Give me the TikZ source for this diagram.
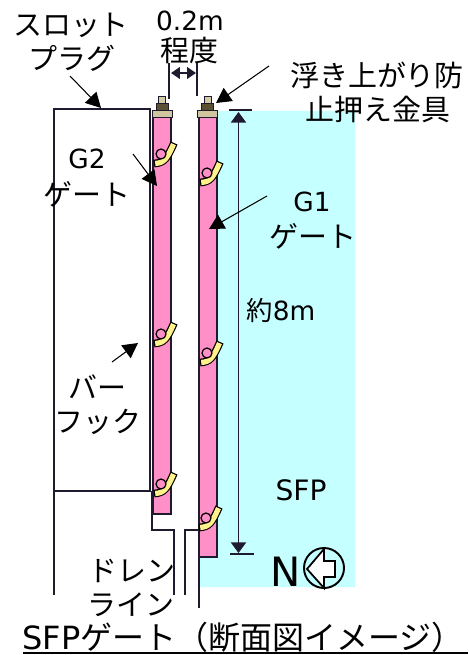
\documentclass[tikz,border=0pt]{standalone}
\usepackage{fontspec}
\usepackage{xcolor}
\usetikzlibrary{arrows.meta}
\usetikzlibrary{positioning}
\setmainfont{DejaVu Sans}
\newfontfamily\jpfont{Noto Sans CJK JP}
\definecolor{poolcyan}{HTML}{C6FFFF}
\definecolor{gatepink}{HTML}{FF8FC7}
\definecolor{hookyellow}{HTML}{FFF28A}
\definecolor{captan}{HTML}{CFC6A0}
\definecolor{nutdark}{HTML}{5A5132}
\definecolor{boltlight}{HTML}{D2CCA6}
\definecolor{linedark}{HTML}{1F1A2E}
\tikzset{
	jplabel/.style={inner sep=0pt, font=\fontsize{16.5}{18}\selectfont\jpfont},
	latinlabel/.style={inner sep=0pt, font=\fontsize{15}{18}\selectfont},
	gate/.style={draw=linedark, fill=gatepink, line width=0.9pt},
	wall/.style={draw=linedark, line width=0.75pt},
	pointer/.style={draw=black, line width=0.6pt, -{Triangle[length=8.5pt, width=9pt]}},
	hookouter/.style={draw=black, line width=4.4pt},
	hookinner/.style={draw=hookyellow, line width=3pt, shorten <=0.7pt, shorten >=0.7pt},
}
\begin{document}
\begin{tikzpicture}[x=0.02cm, y=-0.02cm]
	\useasboundingbox (0,0) rectangle (468,655);

	% pool
	\fill[poolcyan] (218,111) -- (355,111) -- (355,587) -- (199,587) -- (199,557) -- (218,557) -- cycle;

	% slot plug and drain
	\draw[wall] (54,595) -- (54,109) -- (150,109) -- (150,491) -- (54,491);
	\draw[wall] (152,491) -- (152,530) -- (174,530) -- (174,595);
	\draw[wall] (185,595) -- (185,530) -- (199,530) -- (199,608);

	% gates
	\draw[gate] (153,117) rectangle (171,514);
	\draw[gate] (199,117) rectangle (217,557);
	\foreach \gx in {162,207.5} {
		\filldraw[draw=linedark, fill=captan, line width=0.5pt] (\gx-10,110) rectangle (\gx+10,117);
		\filldraw[draw=linedark, fill=nutdark, line width=0.5pt] (\gx-6,103) rectangle (\gx+6,110);
		\filldraw[draw=linedark, fill=boltlight, line width=0.5pt] (\gx-3.5,96) rectangle (\gx+3.5,103);
	}

	% hooks
	\foreach \hx/\hy in {161/154, 161/334, 161/484, 207/173, 207/353, 206/518} {
		\draw[hookouter] (\hx-7,\hy+9.5) .. controls (\hx+3,\hy+9) and (\hx+6,\hy+5) .. (\hx+13,\hy-11);
		\draw[hookinner] (\hx-7,\hy+9.5) .. controls (\hx+3,\hy+9) and (\hx+6,\hy+5) .. (\hx+13,\hy-11);
		\draw[draw=black, fill=gatepink, line width=0.7pt] (\hx,\hy) circle (5);
	}

	% width mark
	\coordinate (tickL) at (169,63);
	\coordinate (tickLb) at (169,99);
	\coordinate (tickR) at (197,63);
	\coordinate (tickRb) at (197,96);
	\draw[linedark, line width=1.4pt] (tickL) -- (tickLb);
	\draw[linedark, line width=0.9pt] (tickR) -- (tickRb);
	\coordinate (spanL) at (171,73);
	\coordinate (spanR) at (196,73);
	\draw[linedark, line width=1.1pt, {Triangle[length=5pt, width=6.5pt]}-{Triangle[length=5pt, width=6.5pt]}] (spanL) -- (spanR);

	% labels
	\node[latinlabel] (width) at (190,21) {0.2m};
	\node[jplabel] (about) at (189,51) {程度};
	\node[jplabel] (plugA) at (71,25) {スロット};
	\node[jplabel] (plugB) at (72,58) {プラグ};
	\node[jplabel] (stopA) at (377,75) {浮き上がり防};
	\node[jplabel] (stopB) at (378,109) {止押え金具};
	\node[latinlabel] (gtwo) at (87,159) {G2};
	\node[jplabel] (gtwoB) at (87,194) {ゲート};
	\node[latinlabel] (gone) at (312,202) {G1};
	\node[jplabel] (goneB) at (313,236) {ゲート};
	\node[latinlabel] (height) at (281,310) {{\jpfont 約}8m};
	\node[jplabel] (hookA) at (97,387) {バー};
	\node[jplabel] (hookB) at (98,422) {フック};
	\node[latinlabel, font=\fontsize{16}{18}\selectfont] (pool) at (301,490) {SFP};
	\node[jplabel] (drainA) at (132,571) {ドレン};
	\node[jplabel] (drainB) at (131,605) {ライン};
	\node[latinlabel, font=\fontsize{23}{28}\selectfont] (north) at (286,572) {N};
	\node[jplabel, font=\fontsize{18.2}{20}\selectfont\jpfont] (title) at (243,637) {{\rmfamily SFP}ゲート（断面図イメージ）};

	% title rule
	\coordinate (ruleL) at (23,653);
	\coordinate (ruleR) at (468,653);
	\draw[black, line width=1.1pt] (ruleL) -- (ruleR);

	% compass
	\coordinate (comp) at (324,568);
	\draw[black, line width=1.1pt] (comp) circle (20);
	\draw[black, fill=white, line width=1pt] (307,569) -- (324,549) -- (324,561) -- (335,561) -- (335,577) -- (324,577) -- (324,588) -- cycle;

	% height mark
	\coordinate (topL) at (229,110);
	\coordinate (topR) at (252,110);
	\coordinate (botL) at (230,554);
	\coordinate (botR) at (254,554);
	\coordinate (heightT) at (238.5,112);
	\coordinate (heightB) at (238.5,553);
	\draw[linedark, line width=1.1pt] (topL) -- (topR);
	\draw[linedark, line width=1.1pt] (botL) -- (botR);
	\draw[linedark, line width=1.1pt, {Triangle[length=6pt, width=8.5pt]}-{Triangle[length=6pt, width=8.5pt]}] (heightT) -- (heightB);

	% pointers
	\coordinate (plugS) at (70,76);
	\coordinate (plugE) at (101,108);
	\coordinate (stopS) at (269,66);
	\coordinate (stopE) at (216,103);
	\coordinate (goneS) at (267,196);
	\coordinate (goneE) at (209,229);
	\coordinate (gtwoS) at (133,154);
	\coordinate (gtwoE) at (157,186);
	\coordinate (hookS) at (112,362);
	\coordinate (hookE) at (138,343);
	\draw[pointer] (plugS) -- (plugE);
	\draw[pointer] (stopS) -- (stopE);
	\draw[pointer] (goneS) -- (goneE);
	\draw[pointer] (gtwoS) -- (gtwoE);
	\draw[pointer] (hookS) -- (hookE);
\end{tikzpicture}
\end{document}
